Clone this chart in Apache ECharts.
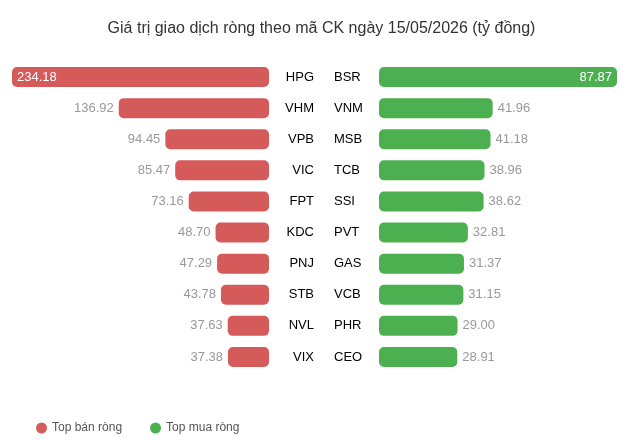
<!DOCTYPE html>
<html>
<head>
<meta charset="utf-8">
<script src="https://cdn.jsdelivr.net/npm/echarts@6/dist/echarts.min.js"></script>
<style>
  html, body { margin: 0; padding: 0; background: #fff; }
  #chart { width: 643px; height: 440px; }
</style>
</head>
<body>
<div id="chart"></div>
<script>
const sellCodes = ['HPG', 'VHM', 'VPB', 'VIC', 'FPT', 'KDC', 'PNJ', 'STB', 'NVL', 'VIX'];
const sellValues = [234.18, 136.92, 94.45, 85.47, 73.16, 48.70, 47.29, 43.78, 37.63, 37.38];
const buyCodes = ['BSR', 'VNM', 'MSB', 'TCB', 'SSI', 'PVT', 'GAS', 'VCB', 'PHR', 'CEO'];
const buyValues = [87.87, 41.96, 41.18, 38.96, 38.62, 32.81, 31.37, 31.15, 29.00, 28.91];

const red = '#d55b5a';
const green = '#4caf50';
const font = 'Arial, "Liberation Sans", sans-serif';

function withLabels(values, outside, inside) {
  const max = Math.max(...values);
  return values.map(v => ({
    value: v,
    label: v === max
      ? { position: inside, color: '#fff', fontSize: 13 }
      : { position: outside, color: '#999', fontSize: 13 }
  }));
}

const chart = echarts.init(document.getElementById('chart'));
chart.setOption({
  animation: false,
  textStyle: { fontFamily: font },
  title: {
    text: 'Giá trị giao dịch ròng theo mã CK ngày 15/05/2026 (tỷ đồng)',
    left: 'center',
    top: 16,
    textStyle: { fontSize: 16, fontWeight: 'normal', color: '#333', fontFamily: font }
  },
  legend: {
    left: 31,
    bottom: 1,
    icon: 'circle',
    itemWidth: 11,
    itemHeight: 11,
    itemGap: 28,
    textStyle: { fontSize: 12, color: '#555', fontFamily: font },
    data: ['Top bán ròng', 'Top mua ròng']
  },
  grid: [
    { left: 12, width: 257, top: 61.5, height: 311 },
    { left: 379, width: 238, top: 61.5, height: 311 }
  ],
  xAxis: [
    { gridIndex: 0, type: 'value', inverse: true, min: 0, max: 234.18, show: false },
    { gridIndex: 1, type: 'value', min: 0, max: 87.87, show: false }
  ],
  yAxis: [
    {
      gridIndex: 0, type: 'category', data: sellCodes, inverse: true, position: 'right',
      axisLine: { show: false }, axisTick: { show: false },
      axisLabel: { align: 'right', margin: 45, color: '#000', fontSize: 13, fontFamily: font }
    },
    {
      gridIndex: 1, type: 'category', data: buyCodes, inverse: true, position: 'left',
      axisLine: { show: false }, axisTick: { show: false },
      axisLabel: { align: 'left', margin: 45, color: '#000', fontSize: 13, fontFamily: font }
    }
  ],
  series: [
    {
      name: 'Top bán ròng', type: 'bar', xAxisIndex: 0, yAxisIndex: 0,
      data: withLabels(sellValues, 'left', 'insideLeft'),
      barWidth: 20,
      itemStyle: { color: red, borderRadius: 5 },
      label: { show: true, formatter: p => p.value.toFixed(2), distance: 5 }
    },
    {
      name: 'Top mua ròng', type: 'bar', xAxisIndex: 1, yAxisIndex: 1,
      data: withLabels(buyValues, 'right', 'insideRight'),
      barWidth: 20,
      itemStyle: { color: green, borderRadius: 5 },
      label: { show: true, formatter: p => p.value.toFixed(2), distance: 5 }
    }
  ]
});
</script>
</body>
</html>
